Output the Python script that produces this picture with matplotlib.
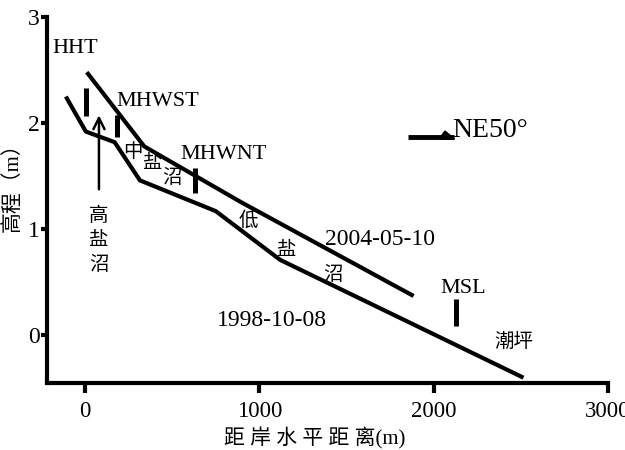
import matplotlib
matplotlib.use('Agg')
import matplotlib.pyplot as plt
from matplotlib.patches import Polygon

plt.rcParams['font.family'] = ['Liberation Serif', 'Noto Sans CJK SC']
plt.rcParams['axes.unicode_minus'] = False

# profiles (distance from shore m, elevation m)
x_2004 = [10, 340, 900, 1885]
y_2004 = [2.48, 1.78, 1.25, 0.37]
x_1998 = [-110, 5, 170, 315, 750, 1120, 2515]
y_1998 = [2.25, 1.92, 1.82, 1.46, 1.17, 0.71, -0.40]

# tide level bars: name, x, y bottom, y top
tide_names = ['HHT', 'MHWST', 'MHWNT', 'MSL']
tide_x = [5, 185, 632, 2126]
tide_y0 = [2.07, 1.87, 1.34, 0.09]
tide_y1 = [2.33, 2.08, 1.58, 0.34]
tide_label_x = [-185, 178, 545, 2167]
tide_label_y = [2.70, 2.20, 1.70, 0.44]

xticks = [0, 1000, 2000, 3000]
yticks = [0, 1, 2, 3]

fig = plt.figure(figsize=(6.25, 4.5), dpi=100)
ax = fig.add_axes([0.0752, 0.1489, 0.8976, 0.8133])

ax.plot(x_2004, y_2004, color='black', lw=3, solid_capstyle='butt')
ax.plot(x_1998, y_1998, color='black', lw=3, solid_capstyle='butt')

for i in range(len(tide_names)):
    ax.plot([tide_x[i], tide_x[i]], [tide_y0[i], tide_y1[i]], color='black',
            lw=3.6, solid_capstyle='butt')
    ha = 'center' if tide_names[i] == 'MSL' else 'left'
    ax.text(tide_label_x[i], tide_label_y[i], tide_names[i], fontsize=16,
            ha=ha, va='center')

# high marsh arrow
ax.annotate('', xy=(80, 2.1), xytext=(80, 1.35),
            arrowprops=dict(arrowstyle='->', color='black', lw=1.8,
                            mutation_scale=20))
for ch, yy in zip(['高', '盐', '沼'], [1.13, 0.89, 0.66]):
    ax.text(80, yy, ch, fontsize=14, ha='center', va='center')

# middle / low marsh labels
zone_text = ['中', '盐', '沼', '低', '盐', '沼', '潮坪']
zone_x = [276, 391, 500, 937, 1160, 1420, 2460]
zone_y = [1.73, 1.62, 1.48, 1.08, 0.80, 0.57, -0.06]
for t, xx, yy in zip(zone_text, zone_x, zone_y):
    ax.text(xx, yy, t, fontsize=14, ha='center', va='center')

ax.text(1695, 0.90, '2004-05-10', fontsize=17, ha='center', va='center')
ax.text(1075, 0.14, '1998-10-08', fontsize=17, ha='center', va='center')

# direction sign
ax.plot([1850, 2115], [1.865, 1.865], color='black', lw=3.5, solid_capstyle='butt')
ax.add_patch(Polygon([[2030, 1.85], [2065, 1.925], [2120, 1.85]],
                     closed=True, color='black'))
ax.text(2108, 1.93, 'NE50°', fontsize=20, ha='left', va='center')

ax.set_xlim(-218, 3000)
ax.set_ylim(-0.45, 3.0)
ax.set_xticks(xticks)
ax.set_yticks(yticks)
ax.tick_params(axis='x', direction='out', length=7, width=3, labelsize=16.5, pad=6)
ax.tick_params(axis='y', direction='out', length=4, width=3, labelsize=17, pad=1)
for s in ['top', 'right']:
    ax.spines[s].set_visible(False)
for s in ['left', 'bottom']:
    ax.spines[s].set_linewidth(3)

ax.set_xlabel('距 岸 水 平 距 离(m)', fontsize=15)
ax.set_ylabel('高程（m）', fontsize=15)
ax.xaxis.set_label_coords(0.477, -0.122)
ax.yaxis.set_label_coords(-0.044, 0.548)

fig.savefig('out.png', dpi=100)
